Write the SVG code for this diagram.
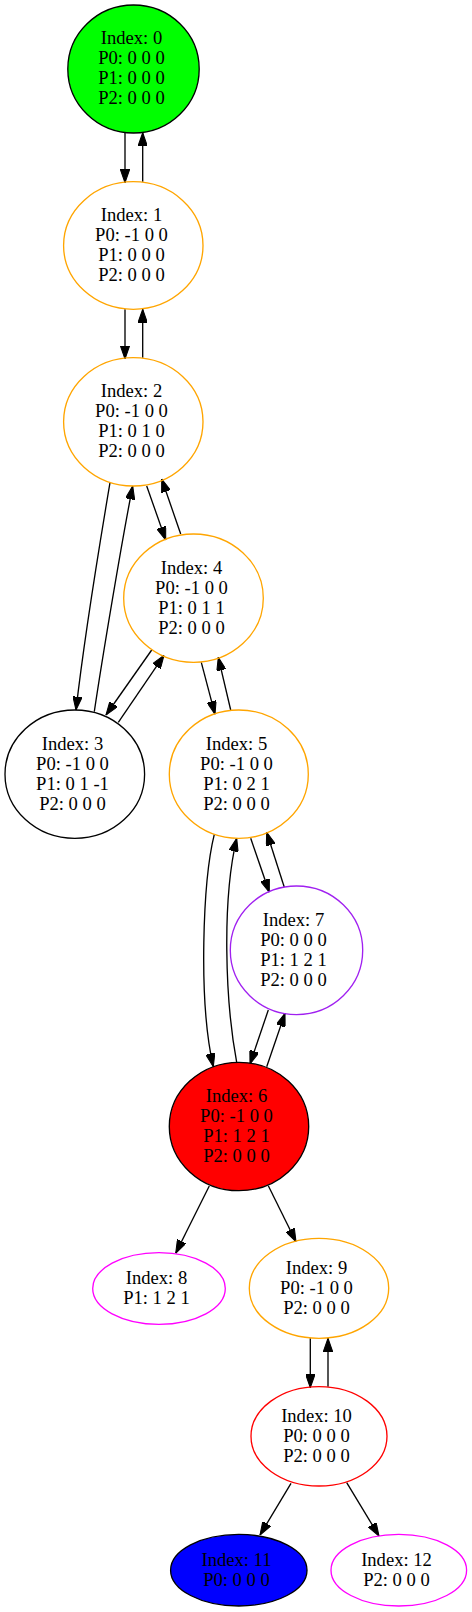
<svg xmlns="http://www.w3.org/2000/svg" width="472" height="1612" viewBox="0 0 472 1612">
<style>
text{font-family:"Liberation Serif","Times New Roman",serif;font-size:18.6px;text-anchor:middle;fill:#000}
ellipse{stroke-width:1.33}
.e{fill:none;stroke:#000;stroke-width:1.33;marker-end:url(#ah)}
</style>
<defs>
<marker id="ah" markerUnits="userSpaceOnUse" markerWidth="13.3" markerHeight="9.33" viewBox="0 0 10 7" refX="10" refY="3.5" orient="auto">
<path d="M0,0 L10,3.5 L0,7 z" fill="#000" stroke="#000" stroke-width="0.8"/>
</marker>
</defs>
<rect width="472" height="1612" fill="#fff"/>
<g id="edges">
<path class="e" d="M125,132.7 L125,182.7"/>
<path class="e" d="M142.7,181.7 L142.7,132.7"/>
<path class="e" d="M125,309.3 L125,359"/>
<path class="e" d="M142.7,357.7 L142.7,309.3"/>
<path class="e" d="M110,482.7 C102,530 84,640 76,710"/>
<path class="e" d="M94.3,711.7 C102,660 122,540 132.7,486"/>
<path class="e" d="M146.7,486 L165.7,540"/>
<path class="e" d="M180.7,534 L161.7,479"/>
<path class="e" d="M151.7,650 L106,715"/>
<path class="e" d="M118.3,722.3 L164,655.3"/>
<path class="e" d="M201.3,662.3 L215,714.3"/>
<path class="e" d="M230.7,710 L218.3,657.3"/>
<path class="e" d="M214.3,834.3 C203,880 198,1000 213.3,1066.7"/>
<path class="e" d="M236.7,1062.3 C225,1000 222,900 236.7,838.3"/>
<path class="e" d="M250.7,838.3 L269.3,892.3"/>
<path class="e" d="M284.3,887.3 L266.7,832.3"/>
<path class="e" d="M268.3,1010 L250,1064"/>
<path class="e" d="M266.7,1066.7 L285,1013.3"/>
<path class="e" d="M209.3,1186 L175.7,1253.3"/>
<path class="e" d="M268.3,1185.7 L296,1241.7"/>
<path class="e" d="M310.3,1338.3 L310.3,1387.7"/>
<path class="e" d="M328,1386.7 L328,1338.3"/>
<path class="e" d="M291,1483.3 L260,1535"/>
<path class="e" d="M346.7,1482.7 L379,1536"/>
</g>
<g id="node0">
<ellipse cx="133.5" cy="69" rx="65.7" ry="64" fill="#00ff00" stroke="#000"/>
<text x="131.5" y="44.3">Index: 0</text>
<text x="131.5" y="64.3">P0: 0 0 0</text>
<text x="131.5" y="84.3">P1: 0 0 0</text>
<text x="131.5" y="104.3">P2: 0 0 0</text>
</g>
<g id="node1">
<ellipse cx="133.3" cy="245.5" rx="69.7" ry="63.8" fill="none" stroke="#ffa500"/>
<text x="131.5" y="220.8">Index: 1</text>
<text x="131.5" y="240.8">P0: -1 0 0</text>
<text x="131.5" y="260.8">P1: 0 0 0</text>
<text x="131.5" y="280.8">P2: 0 0 0</text>
</g>
<g id="node2">
<ellipse cx="133.3" cy="421.8" rx="69.7" ry="64.2" fill="none" stroke="#ffa500"/>
<text x="131.5" y="397.1">Index: 2</text>
<text x="131.5" y="417.1">P0: -1 0 0</text>
<text x="131.5" y="437.1">P1: 0 1 0</text>
<text x="131.5" y="457.1">P2: 0 0 0</text>
</g>
<g id="node3">
<ellipse cx="74.8" cy="774.2" rx="69.8" ry="64.2" fill="none" stroke="#000"/>
<text x="72.5" y="749.5">Index: 3</text>
<text x="72.5" y="769.5">P0: -1 0 0</text>
<text x="72.5" y="789.5">P1: 0 1 -1</text>
<text x="72.5" y="809.5">P2: 0 0 0</text>
</g>
<g id="node4">
<ellipse cx="193.5" cy="598.2" rx="69.8" ry="64.2" fill="none" stroke="#ffa500"/>
<text x="191.5" y="573.5">Index: 4</text>
<text x="191.5" y="593.5">P0: -1 0 0</text>
<text x="191.5" y="613.5">P1: 0 1 1</text>
<text x="191.5" y="633.5">P2: 0 0 0</text>
</g>
<g id="node5">
<ellipse cx="238.8" cy="774.2" rx="69.5" ry="64.2" fill="none" stroke="#ffa500"/>
<text x="236.5" y="749.5">Index: 5</text>
<text x="236.5" y="769.5">P0: -1 0 0</text>
<text x="236.5" y="789.5">P1: 0 2 1</text>
<text x="236.5" y="809.5">P2: 0 0 0</text>
</g>
<g id="node6">
<ellipse cx="239" cy="1126.5" rx="69.7" ry="64.2" fill="#ff0000" stroke="#000"/>
<text x="236.5" y="1101.8">Index: 6</text>
<text x="236.5" y="1121.8">P0: -1 0 0</text>
<text x="236.5" y="1141.8">P1: 1 2 1</text>
<text x="236.5" y="1161.8">P2: 0 0 0</text>
</g>
<g id="node7">
<ellipse cx="296.5" cy="950.3" rx="66.2" ry="64.3" fill="none" stroke="#a020f0"/>
<text x="293.5" y="925.6">Index: 7</text>
<text x="293.5" y="945.6">P0: 0 0 0</text>
<text x="293.5" y="965.6">P1: 1 2 1</text>
<text x="293.5" y="985.6">P2: 0 0 0</text>
</g>
<g id="node8">
<ellipse cx="159" cy="1288.5" rx="66.3" ry="35.8" fill="none" stroke="#ff00ff"/>
<text x="156.5" y="1283.8">Index: 8</text>
<text x="156.5" y="1303.8">P1: 1 2 1</text>
</g>
<g id="node9">
<ellipse cx="319" cy="1288.3" rx="69.7" ry="50" fill="none" stroke="#ffa500"/>
<text x="316.5" y="1273.6">Index: 9</text>
<text x="316.5" y="1293.6">P0: -1 0 0</text>
<text x="316.5" y="1313.6">P2: 0 0 0</text>
</g>
<g id="node10">
<ellipse cx="319" cy="1436.3" rx="68" ry="49.7" fill="none" stroke="#ff0000"/>
<text x="316.5" y="1421.6">Index: 10</text>
<text x="316.5" y="1441.6">P0: 0 0 0</text>
<text x="316.5" y="1461.6">P2: 0 0 0</text>
</g>
<g id="node11">
<ellipse cx="238.8" cy="1570.2" rx="68.2" ry="35.8" fill="#0000ff" stroke="#000"/>
<text x="236.5" y="1565.5">Index: 11</text>
<text x="236.5" y="1585.5">P0: 0 0 0</text>
</g>
<g id="node12">
<ellipse cx="398.8" cy="1570.2" rx="67.8" ry="35.8" fill="none" stroke="#ff00ff"/>
<text x="396.5" y="1565.5">Index: 12</text>
<text x="396.5" y="1585.5">P2: 0 0 0</text>
</g>
</svg>
